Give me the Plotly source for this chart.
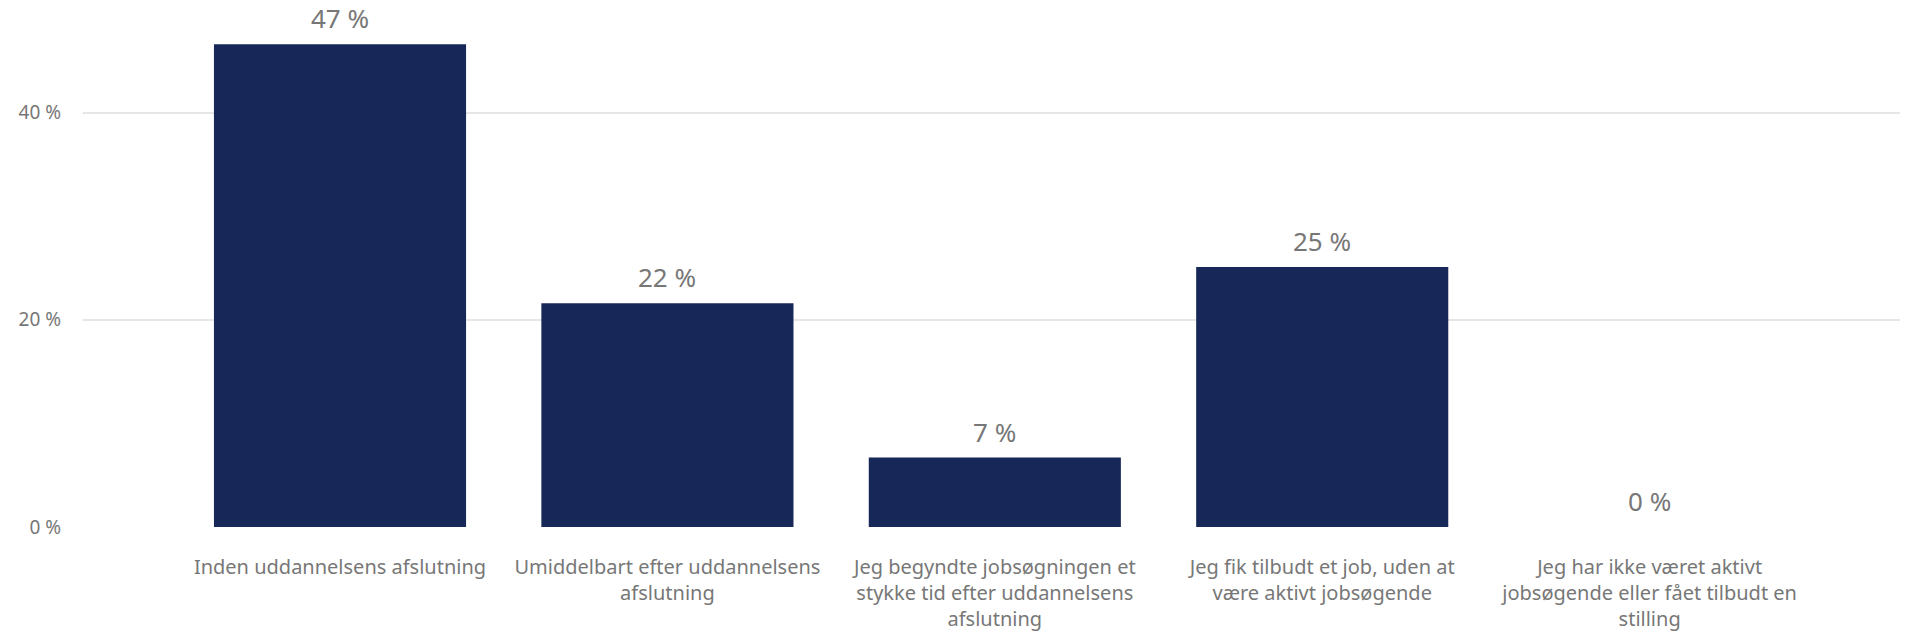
import plotly.graph_objects as go

categories = [
    "Inden uddannelsens afslutning",
    "Umiddelbart efter uddannelsens<br>afslutning",
    "Jeg begyndte jobsøgningen et<br>stykke tid efter uddannelsens<br>afslutning",
    "Jeg fik tilbudt et job, uden at<br>være aktivt jobsøgende",
    "Jeg har ikke været aktivt<br>jobsøgende eller fået tilbudt en<br>stilling",
]
values = [46.6, 21.6, 6.7, 25.1, 0.0]
value_labels = [f"{round(v)} %" for v in values]
tick_vals = [0, 20, 40]
tick_text = ["0 %", "20 %", "40 %"]

FONT = "Noto Sans"
GRAY = "#777777"
BAR = "#172757"

fig = go.Figure(
    go.Bar(
        x=list(range(len(categories))),
        y=values,
        marker=dict(color=BAR, line=dict(width=0)),
        width=0.77,
        hoverinfo="skip",
    )
)

for i, (v, t) in enumerate(zip(values, value_labels)):
    fig.add_annotation(
        x=i, y=v, text=t, showarrow=False, yanchor="bottom", yshift=6,
        font=dict(family=FONT, size=26, color=GRAY),
    )

fig.update_layout(
    width=1908, height=640,
    margin=dict(l=75, r=11, t=1, b=121),
    paper_bgcolor="white", plot_bgcolor="white",
    showlegend=False,
    bargap=0.23,
)
fig.update_xaxes(
    tickmode="array",
    tickvals=list(range(len(categories))),
    ticktext=categories,
    range=[-0.785, 4.78],
    tickfont=dict(family=FONT, size=20, color=GRAY),
    showgrid=False, zeroline=False, showline=False,
    tickangle=0,
    ticklabelstandoff=26,
    automargin=False,
)
fig.update_yaxes(
    range=[0, 50],
    tickvals=tick_vals, ticktext=tick_text,
    tickfont=dict(family=FONT, size=19, color=GRAY),
    showgrid=True, gridcolor="#e6e6e6", gridwidth=2,
    zeroline=False, showline=False,
    ticklabelstandoff=21,
    automargin=False,
)

fig.write_html("out.html")
